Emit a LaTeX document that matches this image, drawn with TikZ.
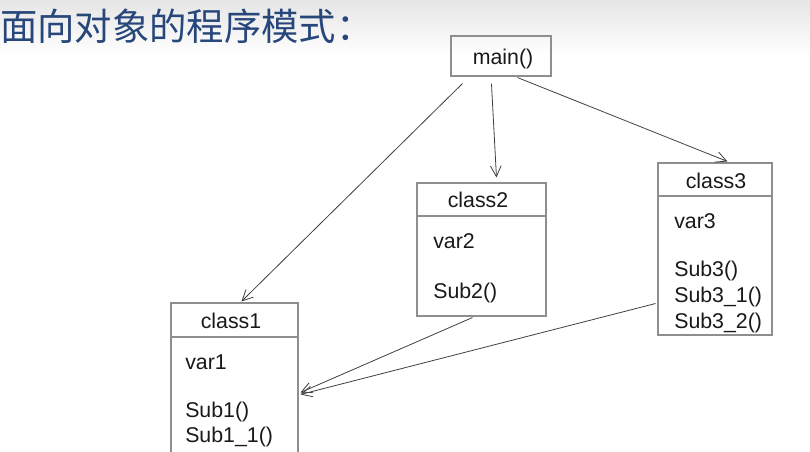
\documentclass[tikz,border=0pt]{standalone}
\usepackage{fontspec}
\setmainfont{Liberation Sans}
\newfontfamily\cjk{Noto Sans CJK SC}
\usetikzlibrary{arrows.meta,calc}
\definecolor{titleblue}{HTML}{27467A}
\definecolor{boxgray}{HTML}{8E8E8E}
\definecolor{arrgray}{HTML}{404040}
\begin{document}
\begin{tikzpicture}[x=0.75pt,y=-0.75pt,
  box/.style={draw=boxgray,line width=0.8pt,inner sep=0pt},
  lbl/.style={font=\fontsize{16pt}{18pt}\selectfont,text=black!90,inner sep=0pt},
  item/.style={lbl,anchor=west},
  arr/.style={draw=arrgray,line width=0.6pt,-{Straight Barb[length=8pt,width=8pt]}}]
\useasboundingbox (0,0) rectangle (810,452);
\clip (0,0) rectangle (810,452);
\fill[white] (0,0) rectangle (810,452);
\shade[top color=black!10,bottom color=white] (0,0) rectangle (810,55);
% title
\node[anchor=west,inner sep=0pt,text=titleblue,font=\cjk\fontsize{28pt}{30pt}\selectfont] (title) at (0,26) {面向对象的程序模式：};
% main
\node[box,minimum width=75pt,minimum height=30pt] (main) at (501,56) {};
\node[lbl] (maint) at (503,59) {main()};
% class1
\node[box,minimum width=95.25pt,minimum height=118.5pt] (class1) at (234.5,382) {};
\draw[boxgray,line width=0.8pt] (class1.west |- 0,337) -- (class1.east |- 0,337);
\node[lbl] (c1t) at (231,321) {class1};
\node[item] (var1) at (185,362) {var1};
\node[item] (sub1) at (185,412) {Sub1()};
\node[item] (sub11) at (185,437) {Sub1\_1()};
% class2
\node[box,minimum width=96.75pt,minimum height=99.75pt] (class2) at (481.5,249.5) {};
\draw[boxgray,line width=0.8pt] (class2.west |- 0,216) -- (class2.east |- 0,216);
\node[lbl] (c2t) at (478,200) {class2};
\node[item] (var2) at (433,241) {var2};
\node[item] (sub2) at (433,293) {Sub2()};
% class3
\node[box,minimum width=85.5pt,minimum height=129pt] (class3) at (715,249) {};
\draw[boxgray,line width=0.8pt] (class3.west |- 0,196) -- (class3.east |- 0,196);
\node[lbl] (c3t) at (716,181) {class3};
\node[item] (var3) at (674,221) {var3};
\node[item] (sub3) at (674,271) {Sub3()};
\node[item] (sub31) at (674,297) {Sub3\_1()};
\node[item] (sub32) at (674,323) {Sub3\_2()};
% connectors
\draw[arr] ($(main.south west)+(12,7)$) -- ($(class1.north west)+(71,-1)$);
\draw[arr] ($(main.south west)+(41,7)$) -- ($(class2.north west)+(80,-5)$);
\draw[arr] ($(main.south west)+(67,1)$) -- ($(class3.north west)+(70,-1)$);
\draw[arr] ($(class2.south west)+(56,1)$) -- ($(class1.north east)+(2,90)$);
\draw[arr] ($(class3.south west)+(-2,-32)$) -- ($(class1.north east)+(2,92)$);
\end{tikzpicture}
\end{document}
